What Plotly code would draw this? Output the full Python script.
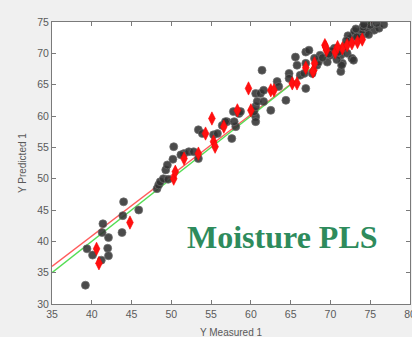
import plotly.graph_objects as go

# Calibration samples (Y Measured 1, Y Predicted 1)
circ_x = [39.2, 39.4, 40.1, 41.2, 42.0, 42.1, 42.1, 41.3, 41.4, 43.8, 43.9, 44.0, 45.9,
          48.2, 48.4, 48.6, 49.0, 49.6, 49.3, 49.5, 50.2, 50.3, 51.6, 52.2, 52.8, 53.4, 51.2, 53.4, 53.9,
          55.3, 55.8, 56.4, 57.0, 57.6, 58.1, 57.8, 56.8, 57.9, 58.5,
          58.7, 60.6, 60.6, 60.4, 60.6, 60.8, 61.6, 62.5, 60.6, 61.2, 61.6, 63.3, 63.5, 61.4, 64.4,
          64.8, 64.8, 66.2, 65.6, 65.8, 66.9, 66.9, 66.9, 67.7, 68.3, 66.7, 67.3, 68.7, 68.5,
          69.6, 70.0, 71.3, 72.1, 72.7, 71.5, 71.3, 72.9, 71.4, 72.9, 73.6, 74.4, 74.0, 74.6,
          75.5, 76.1, 76.7, 74.1, 73.0, 72.5, 71.8, 70.5, 75.0, 73.8, 70.8, 69.0, 68.0, 75.8,
          73.3, 72.2, 74.8, 70.2, 71.0, 73.2, 74.2, 72.0, 69.8]
circ_y = [33.0, 38.8, 37.8, 37.0, 38.9, 37.7, 40.6, 41.4, 42.8, 41.4, 44.1, 46.3, 45.0,
          48.4, 49.0, 49.5, 50.0, 49.9, 51.4, 52.2, 53.1, 55.1, 54.0, 54.3, 54.3, 53.2, 53.8, 57.8, 57.2,
          57.0, 57.2, 58.5, 59.1, 56.4, 58.3, 60.7, 59.1, 59.1, 60.4,
          60.7, 59.9, 59.1, 60.7, 61.5, 62.3, 62.3, 60.9, 63.6, 63.6, 64.1, 65.5, 64.7, 67.3, 62.5,
          66.8, 66.0, 66.5, 69.4, 68.1, 68.4, 70.2, 64.4, 66.8, 68.1, 66.8, 70.5, 69.7, 68.6,
          68.6, 69.7, 69.7, 70.0, 69.2, 68.4, 67.1, 68.9, 68.1, 72.9, 73.2, 73.2, 73.7, 74.0,
          73.7, 74.0, 74.6, 74.2, 73.5, 72.3, 71.0, 70.8, 74.5, 72.5, 69.0, 69.3, 69.2, 74.8,
          72.6, 72.8, 73.0, 70.4, 70.2, 73.9, 74.6, 72.0, 69.9]

# Validation samples
dia_x = [40.6, 40.9, 44.8, 50.3, 50.5, 51.6, 53.4, 54.3, 55.1, 55.3, 55.5, 56.6, 58.3,
         60.0, 59.7, 62.5, 62.9, 65.2, 65.8, 66.9, 67.9, 68.0, 67.8, 69.3, 69.5, 70.6,
         71.5, 72.1, 72.7, 73.4, 69.4, 74.0, 70.9]
dia_y = [38.8, 36.5, 43.0, 50.0, 51.1, 53.2, 54.0, 57.2, 59.6, 55.9, 55.1, 58.3, 60.9,
         60.9, 64.4, 64.1, 64.1, 65.2, 65.2, 67.7, 67.3, 68.4, 67.1, 71.3, 70.5, 70.2,
         70.8, 71.3, 71.6, 71.8, 71.0, 72.2, 71.0]

# Fit lines: slope, intercept
fit_slope, fit_intercept = 0.969, 2.09
ideal_slope, ideal_intercept = 1.0, 0.0
line_x = [35, 80]

x_ticks = [35, 40, 45, 50, 55, 60, 65, 70, 75, 80]
y_ticks = [30, 35, 40, 45, 50, 55, 60, 65, 70, 75]

fig = go.Figure()
fig.add_trace(go.Scatter(x=line_x, y=[fit_slope * v + fit_intercept for v in line_x],
                         mode="lines", line=dict(color="#ff5c5c", width=1.3), hoverinfo="skip"))
fig.add_trace(go.Scatter(x=line_x, y=[ideal_slope * v + ideal_intercept for v in line_x],
                         mode="lines", line=dict(color="#55dd55", width=1.3), hoverinfo="skip"))
fig.add_trace(go.Scatter(x=circ_x, y=circ_y, mode="markers",
                         marker=dict(symbol="circle", size=8, color="rgba(50,50,50,0.88)",
                                     line=dict(color="rgba(110,110,110,0.9)", width=0.8))))
fig.add_trace(go.Scatter(x=dia_x, y=dia_y, mode="markers",
                         marker=dict(symbol="diamond-tall", size=9.5, color="#ff1010",
                                     line=dict(color="#ff0000", width=0.6))))

axis_common = dict(showgrid=False, zeroline=False, showline=True, linecolor="#7a7a7a",
                   linewidth=1, mirror="ticks", ticks="inside", ticklen=4, tickcolor="#7a7a7a",
                   ticklabeloverflow="allow",
                   tickfont=dict(family="Liberation Sans, Arial", size=10.5, color="#5a5a5a"))

fig.update_layout(
    width=412, height=337, showlegend=False,
    paper_bgcolor="#f0f0f0", plot_bgcolor="#ffffff",
    margin=dict(l=52, r=2, t=22, b=33, autoexpand=False),
    xaxis=dict(range=[35, 80], tickvals=x_ticks, ticktext=[str(t) for t in x_ticks], **axis_common),
    yaxis=dict(range=[30, 75], tickvals=y_ticks, ticktext=[str(t) for t in y_ticks], **axis_common),
    annotations=[
        dict(text="Y Measured 1", xref="paper", yref="paper", x=0.5, y=0, yshift=-28,
             showarrow=False, yanchor="middle",
             font=dict(family="Liberation Sans, Arial", size=10, color="#5a5a5a")),
        dict(text="Y Predicted 1", xref="paper", yref="paper", x=0, xshift=-30, y=0.5,
             showarrow=False, textangle=-90, xanchor="center",
             font=dict(family="Liberation Sans, Arial", size=10, color="#5a5a5a")),
        dict(text="<b>Moisture PLS</b>", xref="paper", yref="paper", x=0.645, y=0.238,
             showarrow=False, xanchor="center", yanchor="middle",
             font=dict(family="Liberation Serif, Times New Roman", size=32, color="#2e8b5c")),
    ],
)

fig.write_html("out.html")
